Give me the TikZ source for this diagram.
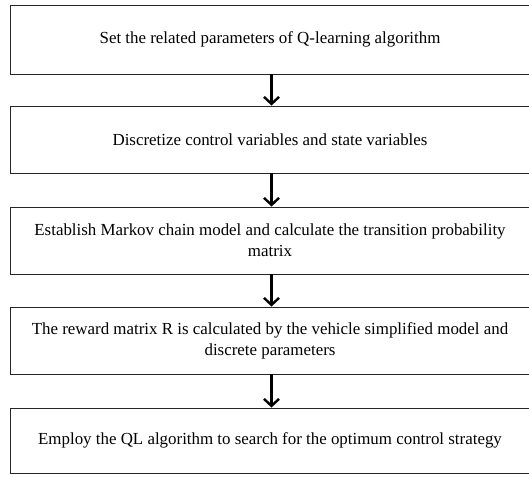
\documentclass[tikz,border=0pt]{standalone}
\usepackage{fontspec}
\setmainfont{Liberation Serif}
\usetikzlibrary{arrows.meta}
\begin{document}
\begin{tikzpicture}[x=1pt,y=-1pt,
  stepbox/.style={draw=black!85,line width=0.9pt,rectangle,minimum width=520pt,inner sep=0pt,
    align=center,font=\fontsize{16.9}{21}\selectfont},
  flow/.style={line width=2.6pt,-{Straight Barb[length=7pt,width=15pt,line width=2.4pt]}}]
\useasboundingbox (0,0) rectangle (529,476);
\begin{scope}
\clip (0,0) rectangle (529,476);
\node[stepbox,minimum height=68.5pt] (b1) at (270,39.75) {Set the related parameters of Q-learning algorithm};
\node[stepbox,minimum height=67pt] (b2) at (270,139.5) {Discretize control variables and state variables};
\node[stepbox,minimum height=67pt] (b3) at (270,240.5) {Establish Markov chain model and calculate the transition probability\\matrix};
\node[stepbox,minimum height=67pt] (b4) at (270,340.5) {The reward matrix R is calculated by the vehicle simplified model and\\discrete parameters};
\node[stepbox,minimum height=65pt] (b5) at (270,440.5) {Employ the QL algorithm to search for the optimum control strategy};
\end{scope}
\draw[flow] ([xshift=1.5pt]b1.south) -- ([xshift=1.5pt]b2.north);
\draw[flow] ([xshift=1.5pt]b2.south) -- ([xshift=1.5pt]b3.north);
\draw[flow] ([xshift=1.5pt]b3.south) -- ([xshift=1.5pt]b4.north);
\draw[flow] ([xshift=1.5pt]b4.south) -- ([xshift=1.5pt]b5.north);
\end{tikzpicture}
\end{document}
